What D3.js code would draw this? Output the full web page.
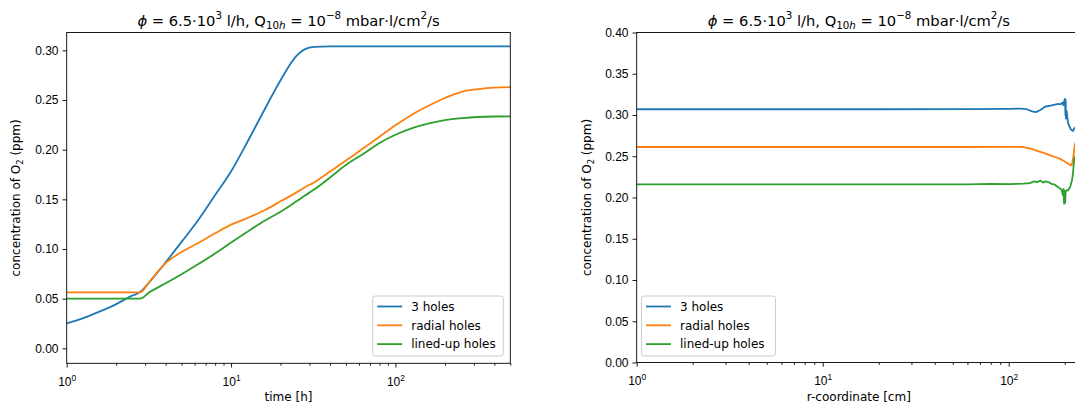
<!DOCTYPE html>
<html>
<head>
<meta charset="utf-8">
<script src="https://cdn.jsdelivr.net/npm/d3@7"></script>
<style>
  body { margin: 0; background: #fff; }
  svg { font-family: "DejaVu Sans", sans-serif; }
</style>
</head>
<body>
<div id="chart"></div>
<script>
// ---- data: left panel (time series) ----
var timeH = [1, 1.25, 1.58, 2, 2.5, 2.8, 3.2, 4, 5, 6.4, 8, 10, 12.5, 16, 20, 25, 28, 32, 40, 50, 64, 80, 100, 128, 160, 200, 256, 320, 400, 500];
var threeHolesT = [0.0252, 0.0302, 0.0369, 0.0445, 0.053, 0.0566, 0.067, 0.0865, 0.1072, 0.1305, 0.1543, 0.178, 0.207, 0.2405, 0.270, 0.2945, 0.301, 0.3035, 0.304, 0.304, 0.304, 0.304, 0.304, 0.304, 0.304, 0.304, 0.304, 0.304, 0.304, 0.304];
var radialHolesT = [0.0564, 0.0564, 0.0564, 0.0564, 0.0564, 0.0564, 0.0675, 0.0857, 0.097, 0.1065, 0.1158, 0.1245, 0.131, 0.139, 0.148, 0.157, 0.162, 0.167, 0.178, 0.189, 0.2016, 0.213, 0.2245, 0.236, 0.2445, 0.252, 0.2585, 0.261, 0.2625, 0.263];
var linedUpHolesT = [0.0500, 0.0500, 0.0500, 0.0500, 0.0500, 0.0500, 0.0567, 0.0655, 0.0746, 0.0853, 0.0955, 0.1065, 0.1172, 0.1285, 0.1375, 0.148, 0.1535, 0.1598, 0.172, 0.1845, 0.196, 0.2067, 0.215, 0.222, 0.2265, 0.2298, 0.2318, 0.2329, 0.2334, 0.2336];

// ---- data: right panel (radial profile) ----
var rBlue = [1, 20, 60, 100, 115, 125, 133.5, 140, 148, 156.7, 168, 177, 185, 190, 194, 197, 199, 200.8, 201.8, 202.5, 203.3, 205, 206.5, 208.4, 211, 213.6, 216, 218.9, 222, 224.4, 230, 236];
var threeHolesR = [0.307, 0.307, 0.3072, 0.3075, 0.3078, 0.307, 0.3045, 0.3035, 0.306, 0.31, 0.3115, 0.3125, 0.3135, 0.313, 0.315, 0.312, 0.3175, 0.3195, 0.300, 0.318, 0.2955, 0.305, 0.2985, 0.2905, 0.2875, 0.2845, 0.2825, 0.2815, 0.2805, 0.2835, 0.2855, 0.286];
var rOrange = [1, 60, 100, 120, 133, 145, 157, 170, 181, 190, 197, 204, 210, 215, 218, 220, 222, 224.4, 226, 228, 236];
var radialHolesR = [0.2612, 0.2612, 0.2614, 0.2612, 0.259, 0.256, 0.2535, 0.2505, 0.2485, 0.2465, 0.2445, 0.2425, 0.2405, 0.239, 0.2395, 0.243, 0.2475, 0.255, 0.262, 0.266, 0.266];
var rGreen = [1, 60, 80, 100, 120, 130, 137, 142, 148, 153, 158, 164, 170, 177, 183, 189, 193, 195.5, 197, 198.5, 199.5, 201, 202.5, 205, 208.4, 211, 213.6, 216, 218.9, 221, 223, 225, 227, 236];
var linedUpHolesR = [0.216, 0.216, 0.2165, 0.2163, 0.2168, 0.2175, 0.2195, 0.2185, 0.2205, 0.218, 0.2195, 0.2185, 0.2165, 0.2155, 0.213, 0.211, 0.2085, 0.203, 0.2105, 0.1925, 0.208, 0.1935, 0.2075, 0.209, 0.2085, 0.2105, 0.2125, 0.216, 0.221, 0.227, 0.237, 0.246, 0.249, 0.25];

var seriesNames = ["3 holes", "radial holes", "lined-up holes"];
var colors = ["#1f77b4", "#ff7f0e", "#2ca02c"];
var leftYTicks = [0, 0.05, 0.10, 0.15, 0.20, 0.25, 0.30];
var rightYTicks = [0, 0.05, 0.10, 0.15, 0.20, 0.25, 0.30, 0.35, 0.40];

var W = 1075, H = 408;
var svg = d3.select("#chart").append("svg")
    .attr("width", W).attr("height", H);

// draws a text with sub/superscript parts, keeping track of the baseline shift
function richText(sel, parts, size) {
  var cur = 0;
  parts.forEach(function(p) {
    var target = p.sup ? -size * 0.42 : (p.sub ? size * 0.22 : 0);
    var t = sel.append("tspan").text(p.t);
    if (target !== cur) t.attr("dy", target - cur);
    cur = target;
    t.attr("font-size", (p.sup || p.sub) ? size * 0.7 : size);
    if (p.it) t.attr("font-style", "italic");
  });
}

var titleParts = [
  {t: "\u03d5", it: true}, {t: " = 6.5\u00b710"}, {t: "3", sup: true},
  {t: " l/h, Q"}, {t: "10", sub: true}, {t: "h", sub: true, it: true},
  {t: " = 10"}, {t: "\u22128", sup: true}, {t: " mbar\u00b7l/cm"}, {t: "2", sup: true}, {t: "/s"}
];

function drawPanel(cfg) {
  var x = d3.scaleLog().domain(cfg.xDomain).range([cfg.x0, cfg.x1]);
  var y = d3.scaleLinear().domain(cfg.yDomain).range([cfg.y1, cfg.y0]);
  var g = svg.append("g");

  var clipId = "clip" + cfg.id;
  svg.append("clipPath").attr("id", clipId).append("rect")
      .attr("x", cfg.x0).attr("y", cfg.y0)
      .attr("width", cfg.x1 - cfg.x0).attr("height", cfg.y1 - cfg.y0);

  // lines
  var lines = g.append("g").attr("clip-path", "url(#" + clipId + ")");
  cfg.series.forEach(function(s, i) {
    var line = d3.line()
        .x(function(d, j) { return x(s.xs[j]); })
        .y(function(d) { return y(d); })
        .curve(cfg.smooth ? d3.curveMonotoneX : d3.curveLinear);
    lines.append("path")
        .attr("d", line(s.ys))
        .attr("fill", "none")
        .attr("stroke", colors[i])
        .attr("stroke-width", 1.8)
        .attr("stroke-linejoin", "round");
  });

  // x axis: major + minor log ticks
  var majors = [1, 10, 100];
  var minors = [];
  [1, 10, 100].forEach(function(dec) {
    for (var k = 2; k <= 9; k++) {
      var v = dec * k;
      if (v <= cfg.xDomain[1]) minors.push(v);
    }
  });
  var xAxis = g.append("g").attr("transform", "translate(0," + cfg.y1 + ")")
      .call(d3.axisBottom(x).tickValues(majors).tickSize(4.2).tickFormat(function() { return ""; }));
  g.append("g").attr("transform", "translate(0," + cfg.y1 + ")")
      .call(d3.axisBottom(x).tickValues(minors).tickSize(2.4).tickFormat(function() { return ""; }))
      .call(function(a) { a.select(".domain").remove(); a.selectAll("text").remove(); });
  xAxis.select(".domain").remove();
  xAxis.selectAll(".tick").each(function(d, i) {
    var t = d3.select(this).select("text")
        .attr("y", 0).attr("dy", 0)
        .attr("transform", "translate(0,22.5)")
        .attr("fill", "#000").attr("font-size", 12);
    t.text("");
    richText(t, [{t: "10"}, {t: String(i), sup: true}], 12);
  });

  // y axis
  var yAxis = g.append("g").attr("transform", "translate(" + cfg.x0 + ",0)")
      .call(d3.axisLeft(y).tickValues(cfg.yTicks).tickSize(4.2).tickPadding(4)
        .tickFormat(d3.format(".2f")));
  yAxis.select(".domain").remove();
  yAxis.selectAll("text").attr("font-size", 12).attr("fill", "#000");

  g.selectAll(".tick line").attr("stroke", "#000").attr("stroke-width", 0.9);

  // frame
  g.append("rect")
      .attr("x", cfg.x0).attr("y", cfg.y0)
      .attr("width", cfg.x1 - cfg.x0).attr("height", cfg.y1 - cfg.y0)
      .attr("fill", "none").attr("stroke", "#000").attr("stroke-width", 0.9);

  // title
  var title = g.append("text")
      .attr("x", (cfg.x0 + cfg.x1) / 2).attr("y", 25.5)
      .attr("text-anchor", "middle").attr("font-size", 14.7);
  richText(title, titleParts, 14.7);

  // axis labels
  g.append("text")
      .attr("x", (cfg.x0 + cfg.x1) / 2).attr("y", 401)
      .attr("text-anchor", "middle").attr("font-size", 12)
      .text(cfg.xLabel);
  var yl = g.append("text")
      .attr("transform", "translate(" + cfg.yLabelX + "," + ((cfg.y0 + cfg.y1) / 2) + ") rotate(-90)")
      .attr("text-anchor", "middle").attr("font-size", 12);
  richText(yl, [{t: "concentration of O"}, {t: "2", sub: true}, {t: " (ppm)"}], 12);

  // legend
  var lg = g.append("g").attr("transform", "translate(" + cfg.legX + "," + cfg.legY + ")");
  lg.append("rect")
      .attr("width", cfg.legW).attr("height", 60)
      .attr("rx", 2.5)
      .attr("fill", "#fff").attr("fill-opacity", 0.8)
      .attr("stroke", "#cccccc").attr("stroke-width", 1);
  seriesNames.forEach(function(n, i) {
    var cy = 10.5 + i * 18.8;
    lg.append("line")
        .attr("x1", 4.5).attr("x2", 29.5).attr("y1", cy).attr("y2", cy)
        .attr("stroke", colors[i]).attr("stroke-width", 1.8);
    lg.append("text")
        .attr("x", 38.5).attr("y", cy + 4.3)
        .attr("font-size", 12).text(n);
  });
}

drawPanel({
  id: "L", x0: 66.7, x1: 510.3, y0: 32.5, y1: 363.3,
  xDomain: [1, 500], yDomain: [-0.0151, 0.318], yTicks: leftYTicks,
  smooth: true,
  series: [
    {xs: timeH, ys: threeHolesT},
    {xs: timeH, ys: radialHolesT},
    {xs: timeH, ys: linedUpHolesT}
  ],
  xLabel: "time [h]", yLabelX: 20,
  legX: 372.7, legY: 296, legW: 130.6
});

drawPanel({
  id: "R", x0: 636.7, x1: 1081, y0: 32.5, y1: 362.5,
  xDomain: [1, Math.pow(10, (1081 - 636.7) / 186)], yDomain: [0, 0.40], yTicks: rightYTicks,
  smooth: false,
  series: [
    {xs: rBlue, ys: threeHolesR},
    {xs: rOrange, ys: radialHolesR},
    {xs: rGreen, ys: linedUpHolesR}
  ],
  xLabel: "r-coordinate [cm]", yLabelX: 591,
  legX: 641.5, legY: 296, legW: 134
});
</script>
</body>
</html>
